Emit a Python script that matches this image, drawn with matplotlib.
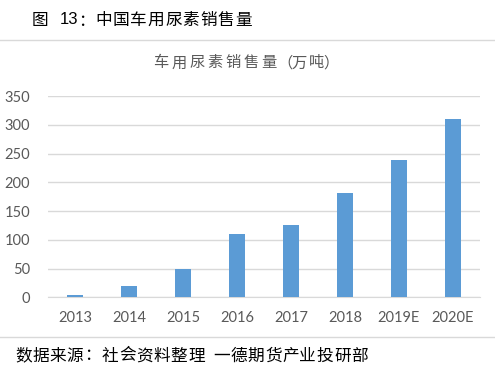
import matplotlib
matplotlib.use("Agg")
import matplotlib.pyplot as plt
from matplotlib.lines import Line2D

categories = ["2013", "2014", "2015", "2016", "2017", "2018", "2019E", "2020E"]
values = [4, 20, 50, 110, 125, 181, 239, 310]
yticks = [0, 50, 100, 150, 200, 250, 300, 350]

header_fig = "图"
header_num = "13"
header_colon = "："
header_text = "中国车用尿素销售量"
chart_title = "车用尿素销售量（万吨）"
footer_a = "数据来源：社会资料整理"
footer_b = "一德期货产业投研部"

plt.rcParams['font.family'] = ['Noto Sans CJK SC', 'DejaVu Sans']

W, H = 495, 376
fig = plt.figure(figsize=(W/100, H/100), dpi=100)
fig.patch.set_facecolor("white")


def put(ch, xc, y, **kw):
    fig.text(xc/W, 1 - y/H, ch, ha="center", va="center", **kw)


def spaced(s, x0, y, pitch, **kw):
    for i, ch in enumerate(s):
        fig.text((x0 + i*pitch)/W, 1 - y/H, ch, ha="left", va="center", **kw)


ax = fig.add_axes([48/W, 1-297.3/H, (480-48)/W, (297.3-96)/H])
x = list(range(len(categories)))
ax.bar(x, values, width=0.31, color="#5B9BD5", zorder=3)
ax.set_xlim(-0.5, len(categories)-0.5)
ax.set_ylim(0, 350)
ax.set_yticks(yticks)
ax.set_xticks(x)
ax.set_xticklabels(categories)
ax.yaxis.grid(True, color="#D9D9D9", linewidth=1, zorder=0)
for s in ["top", "right", "left"]:
    ax.spines[s].set_visible(False)
ax.spines["bottom"].set_color("#D9D9D9")
ax.tick_params(axis="both", length=0, colors="#595959", labelsize=10.5)
ax.tick_params(axis="y", pad=13)
ax.tick_params(axis="x", pad=10)
for lab in ax.get_xticklabels() + ax.get_yticklabels():
    lab.set_family(["Lato", "DejaVu Sans"])

# chart title (letter-spaced, ink centres)
title_centres = [161, 179, 197, 215, 233, 251, 269, 285, 299, 317, 331]
for ch, xc in zip(chart_title, title_centres):
    put(ch, xc, 63, fontsize=11, color="#595959")

# header
put(header_fig, 40, 20, fontsize=12, color="black")
put(header_num, 69, 20, fontsize=12, color="black", family=["Liberation Sans", "DejaVu Sans"])
put(header_colon, 86, 21, fontsize=12, color="black")
for i, ch in enumerate(header_text):
    put(ch, 103.5 + 17.5*i, 20, fontsize=12, color="black")

# footer
spaced(footer_a, 15, 356, 17.3, fontsize=12, color="black")
spaced(footer_b, 213, 356, 17.3, fontsize=12, color="black")

fig.add_artist(Line2D([0, 1], [1-40/H, 1-40/H], transform=fig.transFigure, color="#D9D9D9", linewidth=1))
fig.add_artist(Line2D([0, 1], [1-337/H, 1-337/H], transform=fig.transFigure, color="#D9D9D9", linewidth=1))

fig.savefig("out.png", dpi=100, facecolor="white")
